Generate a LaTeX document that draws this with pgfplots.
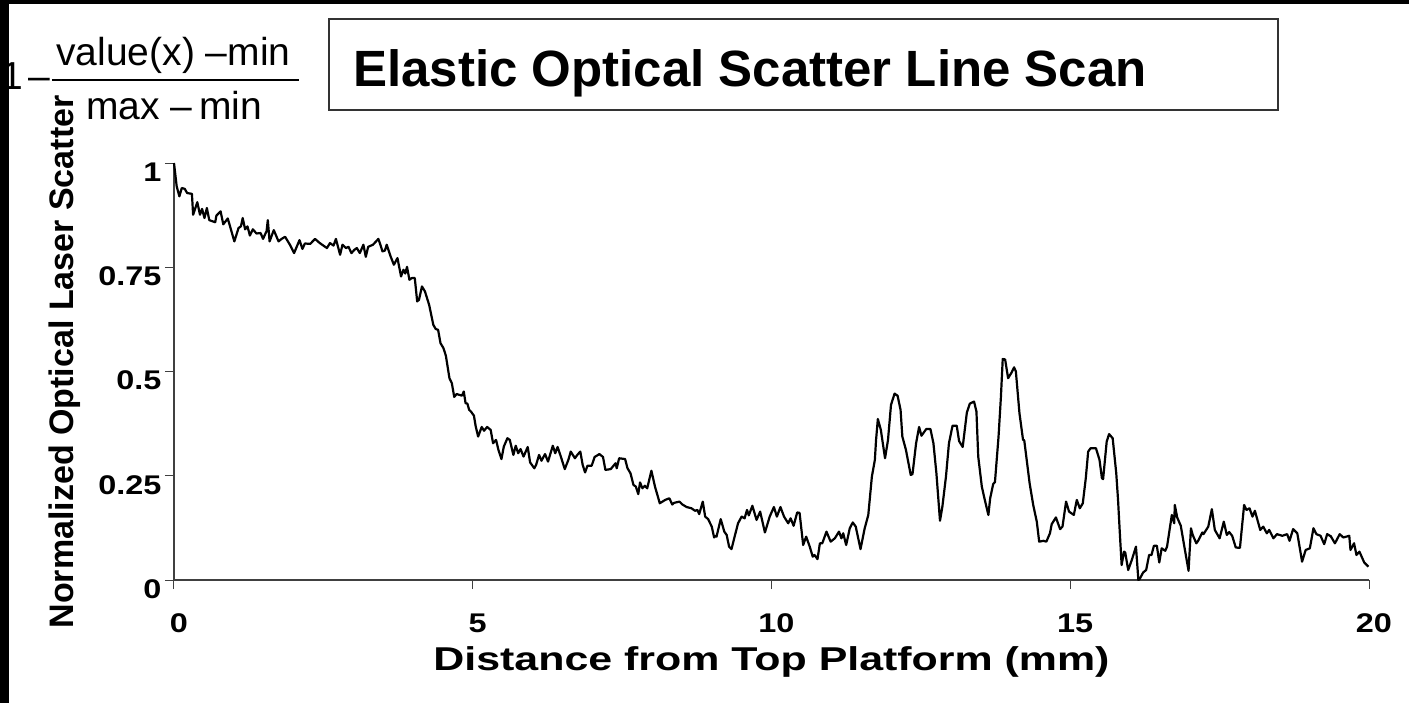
\documentclass[border=0pt]{standalone}
\usepackage{fontspec}
\setmainfont{Liberation Sans}
\usepackage{pgfplots}
\pgfplotsset{compat=1.18}
\usepackage{pgfplotstable}

\pgfplotstableread{
x y
0 1.0
0.045 0.944
0.09 0.92
0.13 0.94
0.18 0.938
0.22 0.928
0.30 0.926
0.32 0.876
0.39 0.906
0.435 0.876
0.47 0.89
0.51 0.868
0.55 0.892
0.59 0.863
0.69 0.858
0.71 0.874
0.78 0.884
0.825 0.853
0.90 0.867
1.01 0.812
1.08 0.844
1.12 0.848
1.15 0.868
1.19 0.841
1.23 0.848
1.27 0.826
1.32 0.841
1.38 0.831
1.45 0.832
1.49 0.818
1.55 0.837
1.57 0.863
1.60 0.812
1.67 0.839
1.75 0.812
1.80 0.818
1.86 0.823
1.94 0.804
2.01 0.784
2.10 0.815
2.15 0.794
2.19 0.807
2.28 0.806
2.36 0.818
2.44 0.808
2.56 0.796
2.61 0.808
2.67 0.802
2.71 0.818
2.78 0.780
2.82 0.804
2.88 0.796
2.92 0.799
2.97 0.784
3.02 0.792
3.06 0.796
3.11 0.784
3.17 0.804
3.21 0.775
3.25 0.799
3.33 0.804
3.42 0.818
3.44 0.810
3.49 0.788
3.53 0.790
3.56 0.804
3.62 0.778
3.68 0.756
3.74 0.772
3.80 0.728
3.84 0.744
3.87 0.735
3.90 0.751
3.94 0.720
3.98 0.724
4.03 0.724
4.07 0.668
4.10 0.672
4.15 0.704
4.20 0.692
4.27 0.660
4.34 0.612
4.38 0.602
4.42 0.600
4.46 0.568
4.51 0.556
4.55 0.538
4.61 0.484
4.65 0.472
4.69 0.439
4.73 0.446
4.82 0.442
4.85 0.452
4.88 0.424
4.91 0.423
4.94 0.408
4.97 0.404
5.02 0.394
5.05 0.368
5.09 0.344
5.15 0.367
5.19 0.358
5.24 0.367
5.30 0.360
5.34 0.328
5.39 0.336
5.43 0.312
5.48 0.290
5.52 0.320
5.58 0.340
5.62 0.336
5.68 0.300
5.72 0.322
5.76 0.304
5.80 0.314
5.85 0.296
5.92 0.319
5.96 0.282
6.03 0.268
6.06 0.276
6.11 0.300
6.15 0.286
6.21 0.302
6.26 0.284
6.34 0.322
6.38 0.304
6.42 0.319
6.47 0.298
6.54 0.266
6.60 0.288
6.64 0.308
6.71 0.292
6.75 0.300
6.80 0.308
6.84 0.276
6.88 0.258
6.92 0.274
6.99 0.274
7.04 0.295
7.12 0.302
7.18 0.295
7.22 0.264
7.31 0.266
7.39 0.280
7.41 0.268
7.45 0.292
7.55 0.290
7.59 0.268
7.64 0.256
7.69 0.228
7.73 0.224
7.77 0.206
7.80 0.234
7.84 0.220
7.88 0.226
7.92 0.220
7.99 0.262
8.05 0.224
8.13 0.184
8.22 0.192
8.29 0.196
8.34 0.181
8.37 0.185
8.46 0.188
8.51 0.181
8.58 0.175
8.66 0.172
8.72 0.166
8.76 0.168
8.79 0.158
8.85 0.188
8.89 0.152
8.94 0.146
9.00 0.128
9.04 0.102
9.06 0.106
9.08 0.104
9.15 0.146
9.21 0.116
9.25 0.108
9.29 0.080
9.33 0.074
9.39 0.108
9.44 0.136
9.50 0.152
9.55 0.148
9.59 0.168
9.62 0.155
9.68 0.178
9.75 0.144
9.81 0.164
9.89 0.114
9.97 0.152
10.04 0.175
10.09 0.152
10.15 0.175
10.21 0.152
10.28 0.136
10.32 0.148
10.37 0.130
10.43 0.162
10.47 0.161
10.53 0.084
10.58 0.104
10.64 0.080
10.69 0.056
10.72 0.060
10.77 0.050
10.81 0.088
10.85 0.088
10.92 0.116
10.99 0.092
11.06 0.100
11.13 0.116
11.17 0.100
11.20 0.112
11.25 0.084
11.31 0.124
11.36 0.138
11.41 0.128
11.49 0.074
11.56 0.124
11.62 0.156
11.68 0.248
11.73 0.288
11.75 0.336
11.78 0.386
11.83 0.360
11.90 0.292
11.95 0.336
12.00 0.420
12.06 0.447
12.11 0.442
12.16 0.408
12.19 0.344
12.25 0.312
12.33 0.252
12.36 0.254
12.42 0.328
12.47 0.367
12.51 0.346
12.59 0.362
12.66 0.362
12.71 0.328
12.76 0.256
12.82 0.142
12.86 0.176
12.92 0.248
12.97 0.328
13.03 0.370
13.10 0.370
13.14 0.333
13.20 0.319
13.27 0.402
13.32 0.423
13.39 0.428
13.43 0.404
13.46 0.296
13.52 0.224
13.57 0.192
13.63 0.156
13.66 0.196
13.71 0.230
13.74 0.235
13.80 0.344
13.84 0.440
13.87 0.530
13.91 0.529
13.96 0.484
14.02 0.498
14.06 0.510
14.09 0.500
14.15 0.400
14.21 0.336
14.23 0.335
14.32 0.232
14.38 0.180
14.44 0.140
14.48 0.092
14.55 0.094
14.60 0.092
14.66 0.112
14.69 0.134
14.76 0.150
14.83 0.122
14.87 0.128
14.93 0.188
14.98 0.164
15.06 0.156
15.11 0.192
15.16 0.172
15.21 0.184
15.26 0.244
15.30 0.308
15.34 0.316
15.43 0.316
15.49 0.288
15.53 0.244
15.55 0.242
15.61 0.332
15.65 0.350
15.71 0.340
15.77 0.256
15.80 0.192
15.83 0.112
15.86 0.036
15.90 0.068
15.92 0.066
15.97 0.024
16.03 0.048
16.10 0.080
16.14 0.0
16.16 0.002
16.22 0.018
16.27 0.024
16.32 0.060
16.36 0.060
16.40 0.082
16.45 0.082
16.49 0.042
16.53 0.076
16.59 0.070
16.62 0.080
16.70 0.156
16.74 0.136
16.75 0.180
16.79 0.150
16.85 0.130
16.90 0.088
16.98 0.022
17.02 0.124
17.05 0.108
17.11 0.088
17.14 0.094
17.21 0.114
17.23 0.110
17.31 0.128
17.37 0.170
17.42 0.120
17.50 0.100
17.57 0.140
17.62 0.108
17.66 0.115
17.71 0.106
17.77 0.078
17.84 0.077
17.91 0.180
17.95 0.168
18.00 0.172
18.05 0.152
18.09 0.166
18.18 0.120
18.23 0.128
18.29 0.112
18.33 0.120
18.40 0.100
18.46 0.110
18.55 0.106
18.63 0.110
18.67 0.094
18.73 0.122
18.80 0.112
18.88 0.044
18.94 0.072
19.01 0.076
19.07 0.124
19.12 0.110
19.19 0.106
19.25 0.086
19.30 0.110
19.36 0.105
19.43 0.088
19.51 0.110
19.57 0.102
19.67 0.106
19.69 0.072
19.75 0.088
19.79 0.060
19.84 0.068
19.92 0.042
19.99 0.032
}\scandata

\begin{document}
\begin{tikzpicture}
\begin{axis}[
  scale only axis, width=597.5pt, height=208.5pt,
  xmin=0, xmax=20, ymin=0, ymax=1,
  axis x line*=bottom, axis y line*=left,
  xtick={0,5,10,15,20}, ytick={0,0.25,0.5,0.75,1},
  tick align=outside, major tick length=4.5pt,
  tick style={black!75, line width=0.5pt},
  axis line style={black!75, line width=0.6pt},
  /pgf/number format/assume math mode=true,
  ticklabel style={font=\fontsize{13.5}{16}\selectfont\bfseries, xscale=1.2},
  xticklabel style={yshift=-9pt, xshift=2pt},
  yticklabel style={xshift=2pt, yshift=-4.5pt},
  xlabel={Distance from Top Platform (mm)},
  ylabel={Normalized Optical Laser Scatter},
  xlabel style={font=\fontsize{16.5}{20}\selectfont\bfseries, xscale=1.3, at={(axis description cs:0.5,-0.216)}, anchor=base},
  ylabel style={font=\fontsize{17}{20}\selectfont\bfseries, at={(axis description cs:-0.0912,0.523)}, anchor=center},
  clip=false,
]
\addplot[black, line width=1.1pt, line join=round, mark=none] table[x=x, y=y] {\scandata};
\end{axis}
\begin{scope}[shift={(-87pt,290pt)}, x=0.5pt, y=-0.5pt]
  \draw[black!80, line width=0.7pt] (329,19) rectangle (1278,110);
  \node[anchor=base, inner sep=0, font=\fontsize{25.5}{30}\selectfont\bfseries] at (750,86) {Elastic Optical Scatter Line Scan};
  \node[anchor=base west, inner sep=0, font=\fontsize{19.5}{22}\selectfont] at (1,90) {1\kern2.5pt–};
  \node[anchor=base west, inner sep=0, font=\fontsize{19.5}{22}\selectfont] at (56,65) {value(x) –min};
  \draw[black, line width=0.8pt] (52,80) -- (299,80);
  \node[anchor=base west, inner sep=0, font=\fontsize{19.5}{22}\selectfont] at (86,120) {max –\,min};
  \fill[black] (0,0) rectangle (9,703);
  \fill[black] (0,0) rectangle (1409,4);
  \pgfresetboundingbox
  \path[use as bounding box] (0,0) rectangle (1409,703);
\end{scope}
\end{tikzpicture}
\end{document}
